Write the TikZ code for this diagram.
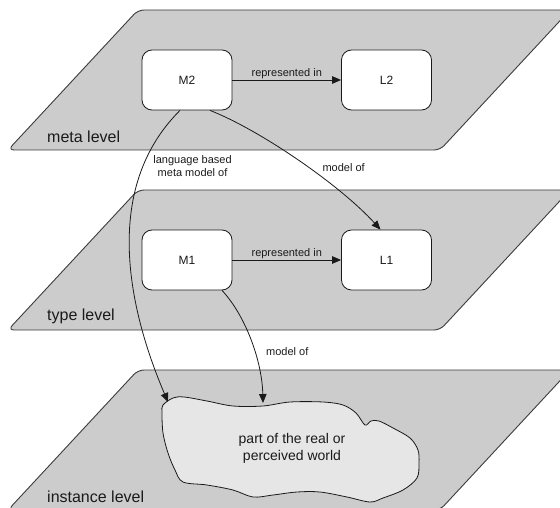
\documentclass[tikz,border=0pt]{standalone}
\usepackage{fontspec}
\setmainfont{Liberation Sans}
\usetikzlibrary{arrows.meta}
\definecolor{planefill}{HTML}{CCCCCC}
\definecolor{cloudfill}{HTML}{E6E6E6}
\definecolor{ink}{HTML}{1A1A1A}

\begin{document}
\begin{tikzpicture}[x=1pt,y=-1pt,
  plane/.style={fill=planefill, draw=ink!85, line width=0.9pt, rounded corners=6pt},
  levellabel/.style={anchor=west, font=\fontsize{16}{19}\selectfont, text=ink, inner sep=0pt},
  box/.style={draw=ink, fill=white, rounded corners=10pt, minimum width=90pt,
    minimum height=60pt, font=\fontsize{12}{14}\selectfont, text=ink, line width=0.8pt, inner sep=0pt},
  link/.style={draw=ink, line width=0.8pt, -{Triangle[length=9pt,width=7.5pt]}},
  linklabel/.style={font=\fontsize{11}{12.5}\selectfont, text=ink, inner sep=0pt, align=center},
  worldshape/.style={fill=cloudfill, draw=ink, line width=0.8pt},
]
\useasboundingbox (0,0) rectangle (560,508);

% the three level planes, cut off at the right and bottom edges
\begin{scope}
  \clip (0,0) rectangle (560,508);
  \foreach \dy in {0,180,360} {
    \path[plane] (8,{150+\dy}) -- (138,{10+\dy}) -- (570,{10+\dy}) -- (440,{150+\dy}) -- cycle;
  }
\end{scope}

\node[levellabel] (metalabel) at (47,137) {meta level};
\node[levellabel] (typelabel) at (47,316) {type level};
\node[levellabel] (instlabel) at (47,497) {instance level};

% model and language boxes
\node[box] (M2) at (187,80) {M2};
\node[box] (L2) at (386.5,80) {L2};
\node[box] (M1) at (187,260) {M1};
\node[box] (L1) at (386.5,260) {L1};

% the world outline on the instance level
\path[worldshape] plot[smooth cycle, tension=0.55] coordinates {
  (163,405) (173,398) (184,397) (207,401) (233,406) (263,406) (290,402)
  (323,402) (343,405) (356,413) (365,425) (371,421) (379,421) (393,428)
  (410,438) (418,450) (419,463) (417,478) (403,490) (383,498) (370,502)
  (347,497) (320,492) (297,492) (273,495) (253,497) (233,490) (207,485)
  (183,482) (175,470) (168,453) (163,433) (162,413)};
\node[font=\fontsize{14}{17}\selectfont, text=ink, align=center] (world) at (292,448)
  {part of the real or\\perceived world};
\coordinate (worldA) at (168,402);
\coordinate (worldB) at (263,403);

% connectors
\draw[link] (M2) -- node[linklabel, above=1pt] {represented in} (L2);
\draw[link] (M1) -- node[linklabel, above=1pt] {represented in} (L1);

\draw[link] ([xshift=23pt]M2.south) .. controls (260,130) and (340,185) .. ([xshift=-6pt]L1.north)
  node[pos=0.55, linklabel, anchor=west, xshift=14pt] {model of};

\draw[link] ([xshift=-7pt]M2.south) .. controls (95,195) and (136,327) .. (worldA)
  node[pos=0.2, linklabel, anchor=west, xshift=10pt] {language based\\meta model of};

\draw[link] ([xshift=35pt]M1.south) .. controls (245,315) and (262,360) .. (worldB)
  node[pos=0.6, linklabel, anchor=west, xshift=11pt] {model of};
\end{tikzpicture}
\end{document}
